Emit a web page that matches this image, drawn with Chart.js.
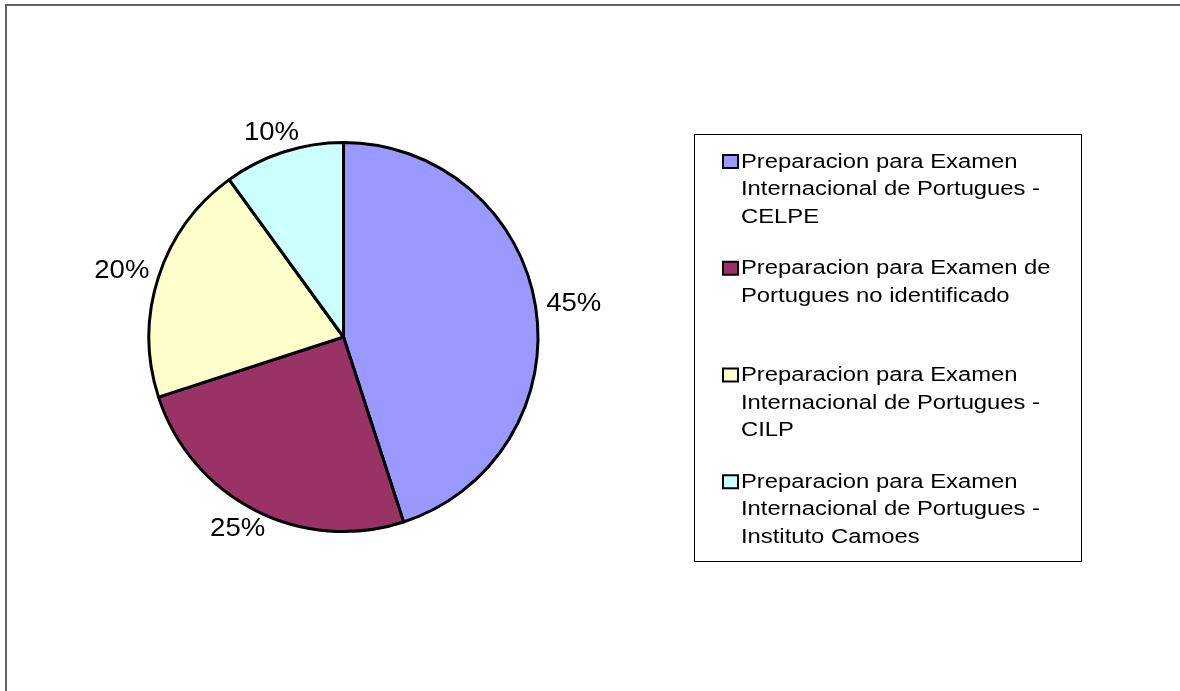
<!DOCTYPE html>
<html>
<head>
<meta charset="utf-8">
<script src="https://cdn.jsdelivr.net/npm/chart.js@4/dist/chart.umd.min.js"></script>
<style>
    html, body { margin: 0; padding: 0; background: #fff; }
    canvas { display: block; }
</style>
</head>
<body>
<canvas id="pieChart" width="1180" height="691"></canvas>
<script>
// Données du graphique
const categories = [
    'Preparacion para Examen Internacional de Portugues - CELPE',
    'Preparacion para Examen de Portugues no identificado',
    'Preparacion para Examen Internacional de Portugues - CILP',
    'Preparacion para Examen Internacional de Portugues - Instituto Camoes'
];
const values = [45, 25, 20, 10];
const sliceColors = ['#9999FF', '#993366', '#FFFFCC', '#CCFFFF'];

const fontFamily = '"Liberation Sans", Arial, sans-serif';

// texte étiré horizontalement comme dans l'original
function stretchedText(ctx, text, x, y, sx, align) {
    ctx.save();
    ctx.translate(x, y);
    ctx.scale(sx, 1);
    ctx.textAlign = align;
    ctx.fillText(text, 0, 0);
    ctx.restore();
}

function wrapLines(ctx, text, maxWidth, sx) {
    const words = text.split(' ');
    const lines = [];
    let current = '';
    words.forEach(word => {
        const test = current ? current + ' ' + word : word;
        if (ctx.measureText(test).width * sx > maxWidth && current) {
            lines.push(current);
            current = word;
        } else {
            current = test;
        }
    });
    if (current) lines.push(current);
    return lines;
}

const decorPlugin = {
    id: 'decor',
    afterDraw(chart) {
        const ctx = chart.ctx;
        const meta = chart.getDatasetMeta(0);
        const data = chart.data.datasets[0].data;
        const total = data.reduce((a, b) => a + b, 0);

        // Cadre extérieur (gauche et haut)
        ctx.save();
        ctx.strokeStyle = '#606060';
        ctx.lineWidth = 2;
        ctx.beginPath();
        ctx.moveTo(6, 691);
        ctx.lineTo(6, 5);
        ctx.lineTo(1180, 5);
        ctx.stroke();
        ctx.restore();

        // Pourcentages à l'extérieur des secteurs
        ctx.save();
        ctx.fillStyle = '#000';
        ctx.font = '26px ' + fontFamily;
        ctx.textBaseline = 'middle';
        const sxPct = 1.06;
        const textH = 19;
        meta.data.forEach((arc, i) => {
            const mid = (arc.startAngle + arc.endAngle) / 2;
            const pct = Math.round(data[i] / total * 100) + '%';
            const w = ctx.measureText(pct).width * sxPct;
            const r = arc.outerRadius + 11;
            const x = arc.x + Math.cos(mid) * r + Math.cos(mid) * w / 2;
            const y = arc.y + Math.sin(mid) * r + Math.sin(mid) * textH / 2;
            stretchedText(ctx, pct, x, y, sxPct, 'center');
        });
        ctx.restore();

        // Légende
        const box = { left: 694, top: 134, right: 1081, bottom: 561 };
        ctx.save();
        ctx.strokeStyle = '#000';
        ctx.lineWidth = 1;
        ctx.strokeRect(box.left + 0.5, box.top + 0.5, box.right - box.left, box.bottom - box.top);

        ctx.font = '20px ' + fontFamily;
        ctx.textBaseline = 'middle';
        const sx = 1.19;
        const slot = (box.bottom - box.top) / chart.data.labels.length;
        const lineHeight = 27.5;
        chart.data.labels.forEach((label, i) => {
            const y0 = box.top + 28 + i * slot;
            ctx.fillStyle = chart.data.datasets[0].backgroundColor[i];
            ctx.fillRect(723, y0 - 7, 15, 13);
            ctx.lineWidth = 2;
            ctx.strokeStyle = '#000';
            ctx.strokeRect(723, y0 - 7, 15, 13);
            ctx.fillStyle = '#000';
            const lines = wrapLines(ctx, label, 325, sx);
            lines.forEach((line, j) => {
                stretchedText(ctx, line, 741, y0 + j * lineHeight, sx, 'left');
            });
        });
        ctx.restore();
    }
};

const ctxPie = document.getElementById('pieChart').getContext('2d');
const pieChart = new Chart(ctxPie, {
    type: 'pie',
    data: {
        labels: categories,
        datasets: [{
            data: values,
            backgroundColor: sliceColors,
            borderColor: '#000',
            borderWidth: 3
        }]
    },
    options: {
        responsive: false,
        animation: false,
        layout: {
            padding: { left: 147, top: 141, right: 640, bottom: 158 }
        },
        plugins: {
            legend: { display: false },
            tooltip: { enabled: false }
        }
    },
    plugins: [decorPlugin]
});
</script>
</body>
</html>
